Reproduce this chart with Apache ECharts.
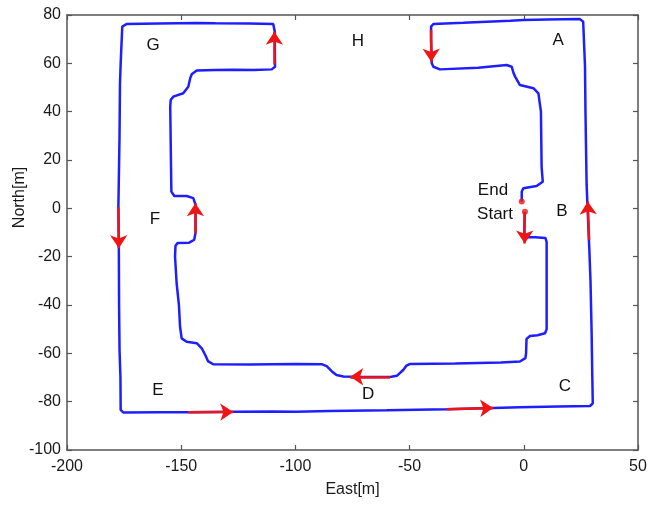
<!DOCTYPE html>
<html>
<head>
<meta charset="utf-8">
<script src="https://cdn.jsdelivr.net/npm/echarts@6/dist/echarts.min.js"></script>
<style>html,body{margin:0;padding:0;background:#fff}#c{width:650px;height:506px}</style>
</head>
<body>
<div id="c"></div>
<script>
// Trajectory (East, North) in metres
const trackEast = [0.5,0.3,0.2,1,5,9.5,10,10,10,9.3,6,2.7,1.2,1,0.7,-1.7,-10,-30,-49.8,-51.5,-52.8,-55.6,-58,-70,-79,-82,-84,-86.3,-88.5,-100,-120,-136,-138.3,-139.3,-141,-143.2,-147.6,-149.8,-150.5,-151,-152,-152.7,-152.5,-151.5,-146.5,-144.3,-143.7,-143.7,-143.9,-144.7,-147.6,-153,-154.3,-154.5,-154.8,-154.6,-153.5,-149.1,-146.9,-146,-145.4,-143.2,-135,-127.2,-118,-110.4,-108.9,-109,-109,-109.7,-120,-135,-143.2,-160,-173.9,-175.8,-176.5,-176.8,-177,-177.5,-177.3,-177.2,-177,-176.6,-176.5,-175.3,-160,-146.9,-127.2,-110,-100,-85,-60,-33.8,-13.4,-1.7,15,29,30.2,30,29.7,29.2,28.7,28.5,27.8,27.5,27,26.8,26,24.6,10,-0.2,-6,-26.5,-39.6,-40.6,-40.6,-40.3,-39.6,-36.7,-20,-7.5,-5.3,-4.5,-3.8,-1.7,4.2,6.4,7.5,7.8,8.3,5.6,-0.2,-0.9,-0.9];
const trackNorth = [-1.4,-6,-11,-12,-12,-12.3,-14,-30,-50,-51.7,-52.5,-52.8,-54,-60,-62,-63.4,-63.8,-64.2,-64.4,-65.2,-66.9,-69.3,-69.7,-69.8,-69.6,-69,-67.5,-65.3,-64.5,-64.4,-64.6,-64.5,-63.2,-61,-57.9,-55.8,-55.2,-53.8,-49,-40,-31,-20,-15.5,-14.3,-14.2,-13,-10,-2,2,4.2,5.1,5.1,6.9,20,42,44.8,46.2,47.6,50.3,54,55.5,57,57.2,57.3,57.2,57.5,58.6,65,73,76.3,76.5,76.6,76.7,76.5,76.3,75.2,60,51.7,30,0.7,-17,-40,-58.6,-70,-83.4,-84.5,-84.4,-84.4,-84.2,-84.1,-84.2,-83.9,-83.6,-83.1,-82.6,-82.3,-82,-81.8,-80.7,-70,-51.7,-30,-17.2,-13,2.8,10,40,58.6,77.2,78.3,78.1,77.9,77.6,76.8,76.3,75.2,70,60,58.6,57.5,58.2,59.3,58.6,56,54.5,51,49.7,47.6,40,17.2,11,9.2,8.3,6.9,2.8];

// Direction arrows: from (East, North) to (East, North)
const arrowFromEast = [0.4, -143.7, -109.2, -177.5, -146.9, -33.8, 28.6, -40.6, -58.6];
const arrowFromNorth = [-1.5, -10.3, 59.5, 0.5, -84.4, -83.1, -13, 73.8, -69.7];
const arrowToEast = [0.4, -143.8, -109.2, -177.3, -127.2, -13.4, 28.0, -40.5, -76];
const arrowToNorth = [-14.5, 2.1, 73.1, -16.5, -84.3, -82.6, 2.8, 60.7, -69.7];

// Start / End markers
const markerEast = [0.5, -0.9];
const markerNorth = [-1.4, 2.8];

// Text annotations
const noteText = ['A','H','G','B','F','E','D','C','End','Start'];
const noteEast = [15, -72.6, -162.3, 16.7, -161.5, -160.2, -68.2, 18, -13.5, -12.6];
const noteNorth = [69.7, 69.2, 67.6, -1.1, -4.4, -75.1, -76.8, -73.5, 7.6, -2.6];

const xTicks = {min:-200, max:50, interval:50};
const yTicks = {min:-100, max:80, interval:20};

const FONT = "'Liberation Sans', Arial, Helvetica, sans-serif";
const axisCol = '#555';

const chart = echarts.init(document.getElementById('c'), null, {renderer:'canvas'});
const baseAxis = {
  type:'value',
  axisLine:{show:true, onZero:false, lineStyle:{color:axisCol, width:1.5}},
  axisTick:{show:true, inside:true, length:5, lineStyle:{color:axisCol, width:1.2}},
  splitLine:{show:false},
  axisLabel:{show:true, color:'#1a1a1a', fontFamily:FONT, fontSize:16}
};
const option = {
  animation:false,
  backgroundColor:'#fff',
  grid:{left:67, right:12, top:15, bottom:56, containLabel:false, outerBoundsMode:'none'},
  xAxis:[
    Object.assign({}, baseAxis, xTicks, {position:'bottom', name:'East[m]', nameLocation:'middle', nameGap:32, nameMoveOverlap:false,
      nameTextStyle:{color:'#1a1a1a', fontFamily:FONT, fontSize:16}, axisLabel:Object.assign({}, baseAxis.axisLabel, {margin:9})}),
    Object.assign({}, baseAxis, xTicks, {position:'top', axisLabel:{show:false}})
  ],
  yAxis:[
    Object.assign({}, baseAxis, yTicks, {position:'left', name:'North[m]', nameLocation:'middle', nameGap:39, nameMoveOverlap:false,
      nameTextStyle:{color:'#1a1a1a', fontFamily:FONT, fontSize:16, padding:[0,0,0,70]}, axisLabel:Object.assign({}, baseAxis.axisLabel, {margin:6})}),
    Object.assign({}, baseAxis, yTicks, {position:'right', axisLabel:{show:false}})
  ],
  series:[
    {
      type:'line',
      data:trackEast.map((e,i)=>[e, trackNorth[i]]),
      showSymbol:false,
      symbol:'none',
      lineStyle:{color:'#1e1eff', width:2.5},
      z:2
    },
    {
      type:'lines',
      coordinateSystem:'cartesian2d',
      data:arrowFromEast.map((e,i)=>({coords:[[e, arrowFromNorth[i]],[arrowToEast[i], arrowToNorth[i]]]})),
      lineStyle:{color:'#f01414', width:2.5, opacity:1},
      symbol:['none','arrow'],
      symbolSize:13,
      z:4
    },
    {
      type:'scatter',
      data:markerEast.map((e,i)=>[e, markerNorth[i]]),
      symbolSize:6,
      itemStyle:{color:'#f01414'},
      z:5
    },
    {
      type:'scatter',
      data:noteEast.map((e,i)=>({value:[e, noteNorth[i]], name:noteText[i]})),
      symbolSize:1,
      itemStyle:{color:'rgba(0,0,0,0)'},
      label:{show:true, position:'inside', formatter:p=>p.name, color:'#111', opacity:1, fontFamily:FONT, fontSize:17},
      emphasis:{disabled:true},
      z:6
    }
  ]
};
chart.setOption(option);
</script>
</body>
</html>
